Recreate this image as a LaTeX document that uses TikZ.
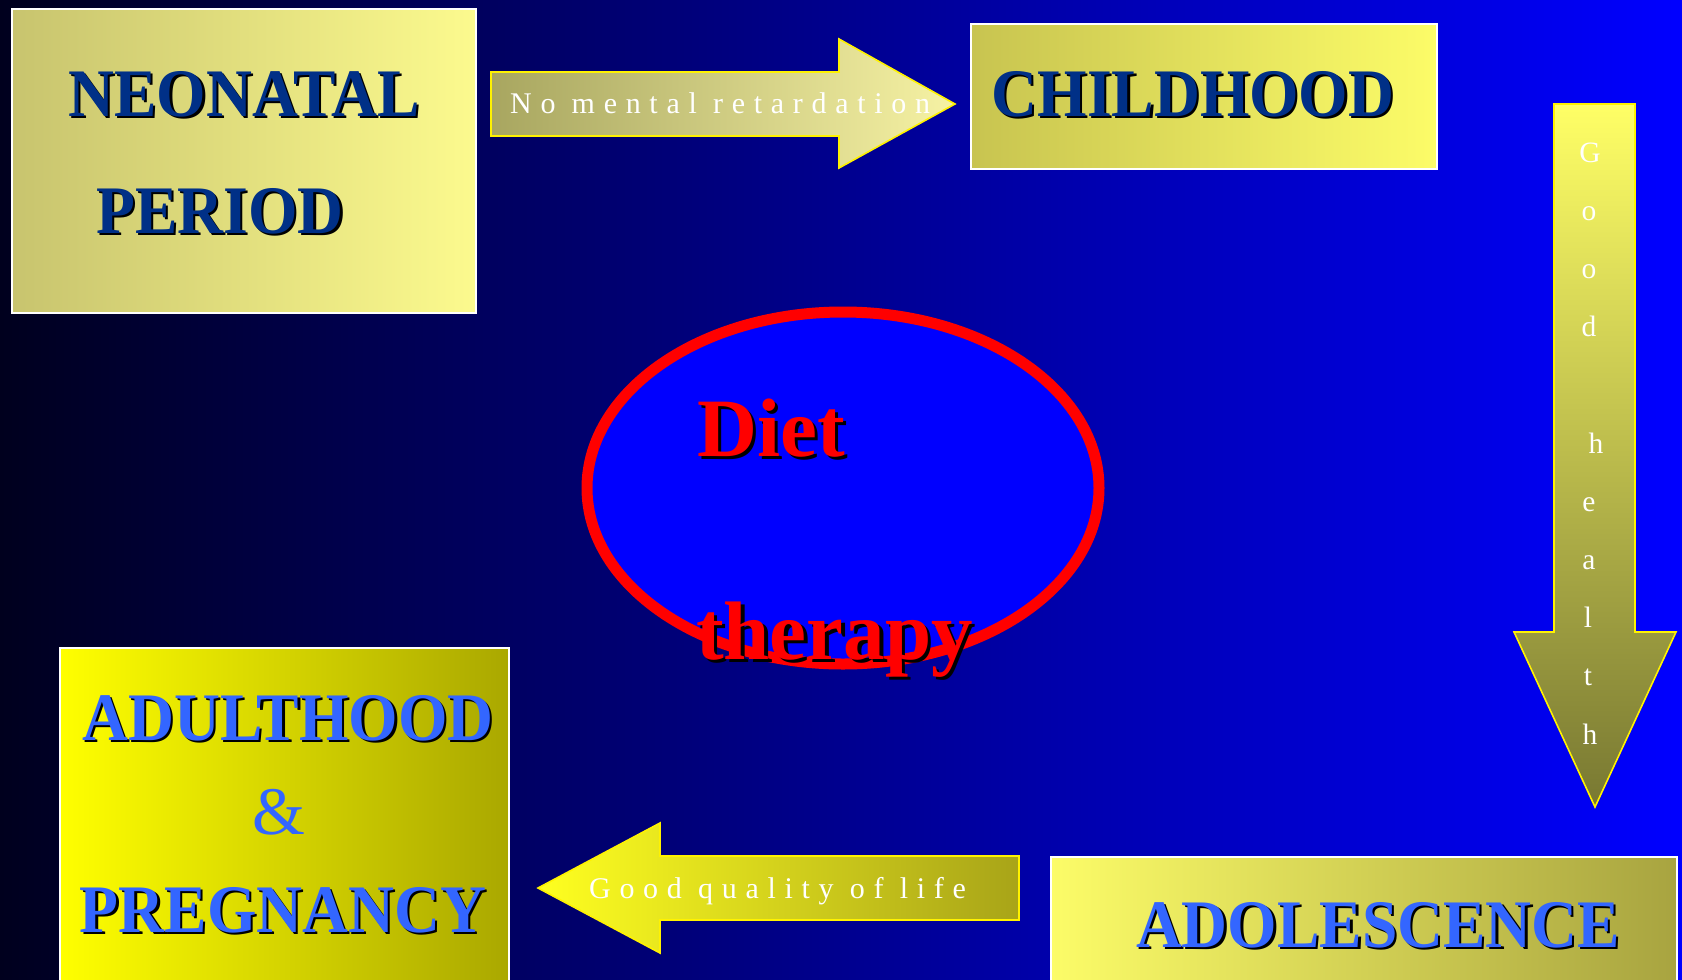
\documentclass[tikz,border=0pt]{standalone}
\usepackage{fontspec}
\setmainfont{Liberation Serif}
\usetikzlibrary{shapes.geometric}
\definecolor{bgL}{RGB}{0,0,30}
\definecolor{bgM}{RGB}{0,0,120}
\definecolor{bgR}{RGB}{0,0,255}
\definecolor{navyT}{RGB}{0,48,135}
\definecolor{blueT}{RGB}{51,102,255}
\definecolor{neoL}{RGB}{200,196,110}
\definecolor{neoR}{RGB}{252,250,142}
\definecolor{chiL}{RGB}{200,196,80}
\definecolor{chiR}{RGB}{252,252,104}
\definecolor{adoL}{RGB}{252,252,104}
\definecolor{adoR}{RGB}{168,164,64}
\definecolor{aduL}{RGB}{255,255,0}
\definecolor{aduR}{RGB}{170,168,0}
\definecolor{raL}{RGB}{168,166,96}
\definecolor{raR}{RGB}{246,242,164}
\definecolor{laL}{RGB}{255,255,32}
\definecolor{laR}{RGB}{168,164,24}
\definecolor{daT}{RGB}{255,255,102}
\definecolor{daB}{RGB}{120,120,50}
\definecolor{ellBlue}{RGB}{0,0,255}
\newcommand\shtext[3]{\rlap{\kern#3\raisebox{-#3}{\color{black}#2}}{\color{#1}#2}}
\tikzset{
  boxnode/.style={draw=white, line width=2pt, anchor=north west, inner sep=0pt},
  arrowshape/.style={draw=yellow, line width=1.6pt, line join=miter},
  title/.style={inner sep=0pt, anchor=base, font=\fontsize{68}{68}\selectfont\bfseries},
  tracked/.style={inner sep=0pt, anchor=base west, text=white,
    font=\fontsize{30}{30}\selectfont\addfontfeature{LetterSpace=29}},
  vlet/.style={inner sep=0pt, anchor=base, text=white, font=\fontsize{29.5}{29.5}\selectfont},
  bigred/.style={inner sep=0pt, anchor=base, font=\fontsize{83}{83}\selectfont\bfseries}
}
\begin{document}
\begin{tikzpicture}[x=1pt,y=-1pt]
\useasboundingbox (0,0) rectangle (1682,980);
\shade[left color=bgL, middle color=bgM, right color=bgR] (0,0) rectangle (1682,980);

% boxes
\node[boxnode, left color=neoL, right color=neoR, minimum width=464pt, minimum height=304.5pt] (neo) at (11,7.5) {};
\node[boxnode, left color=chiL, right color=chiR, minimum width=465.5pt, minimum height=145pt] (chi) at (970,23) {};
\node[boxnode, left color=adoL, right color=adoR, minimum width=625.5pt, minimum height=140pt] (ado) at (1050,856) {};
\node[boxnode, left color=aduL, right color=aduR, minimum width=448.5pt, minimum height=350pt] (adu) at (59,647) {};

% titles
\node[title] (tneo) at (244,116) {\scalebox{0.935}[1]{\shtext{navyT}{NEONATAL}{2.5pt}}};
\node[title] (tper) at (220,233) {\scalebox{0.935}[1]{\shtext{navyT}{PERIOD}{2.5pt}}};
\node[title] (tchi) at (1193,116) {\scalebox{0.935}[1]{\shtext{navyT}{CHILDHOOD}{2.5pt}}};
\node[title] (tadu) at (288,740) {\scalebox{0.935}[1]{\shtext{blueT}{ADULTHOOD}{2.5pt}}};
\node[inner sep=0pt, anchor=base, text=blueT, font=\fontsize{68}{68}\selectfont] (tamp) at (279,834) {\&};
\node[title] (tpre) at (283,932) {\scalebox{0.935}[1]{\shtext{blueT}{PREGNANCY}{2.5pt}}};
\node[title] (tado) at (1378,947) {\scalebox{0.935}[1]{\shtext{blueT}{ADOLESCENCE}{2.5pt}}};

% right arrow
\draw[arrowshape, left color=raL, right color=raR] (491,72) -- (839,72) -- (839,39) -- (955,104) -- (839,168) -- (839,136) -- (491,136) -- cycle;
\node[tracked] (nmr) at (510,113) {No mental retardation};

% down arrow
\draw[arrowshape, top color=daT, bottom color=daB] (1554,104) -- (1635,104) -- (1635,632) -- (1676,632) -- (1595,807) -- (1514,632) -- (1554,632) -- cycle;
\foreach \ch/\k/\xx in {G/0/1590,o/1/1589,o/2/1589,d/3/1589,h/5/1596,e/6/1589,a/7/1589,l/8/1588,t/9/1588,h/10/1590}
  \node[vlet] (gh\k) at (\xx,{162+58.2*\k}) {\ch};

% left arrow
\draw[arrowshape, left color=laL, right color=laR] (1019,856) -- (660,856) -- (660,823) -- (538,888) -- (660,953) -- (660,920) -- (1019,920) -- cycle;
\node[tracked] (gql) at (589,898) {Good quality of life};

% ellipse
\node[ellipse, draw=red, line width=11pt, fill=ellBlue, minimum width=512pt, minimum height=352pt, inner sep=0pt] (ell) at (843,488) {};
\node[bigred] (diet) at (771,456) {\shtext{red}{Diet}{3.5pt}};
\node[bigred] (ther) at (834.5,659) {\shtext{red}{therapy}{3.5pt}};
\end{tikzpicture}
\end{document}
